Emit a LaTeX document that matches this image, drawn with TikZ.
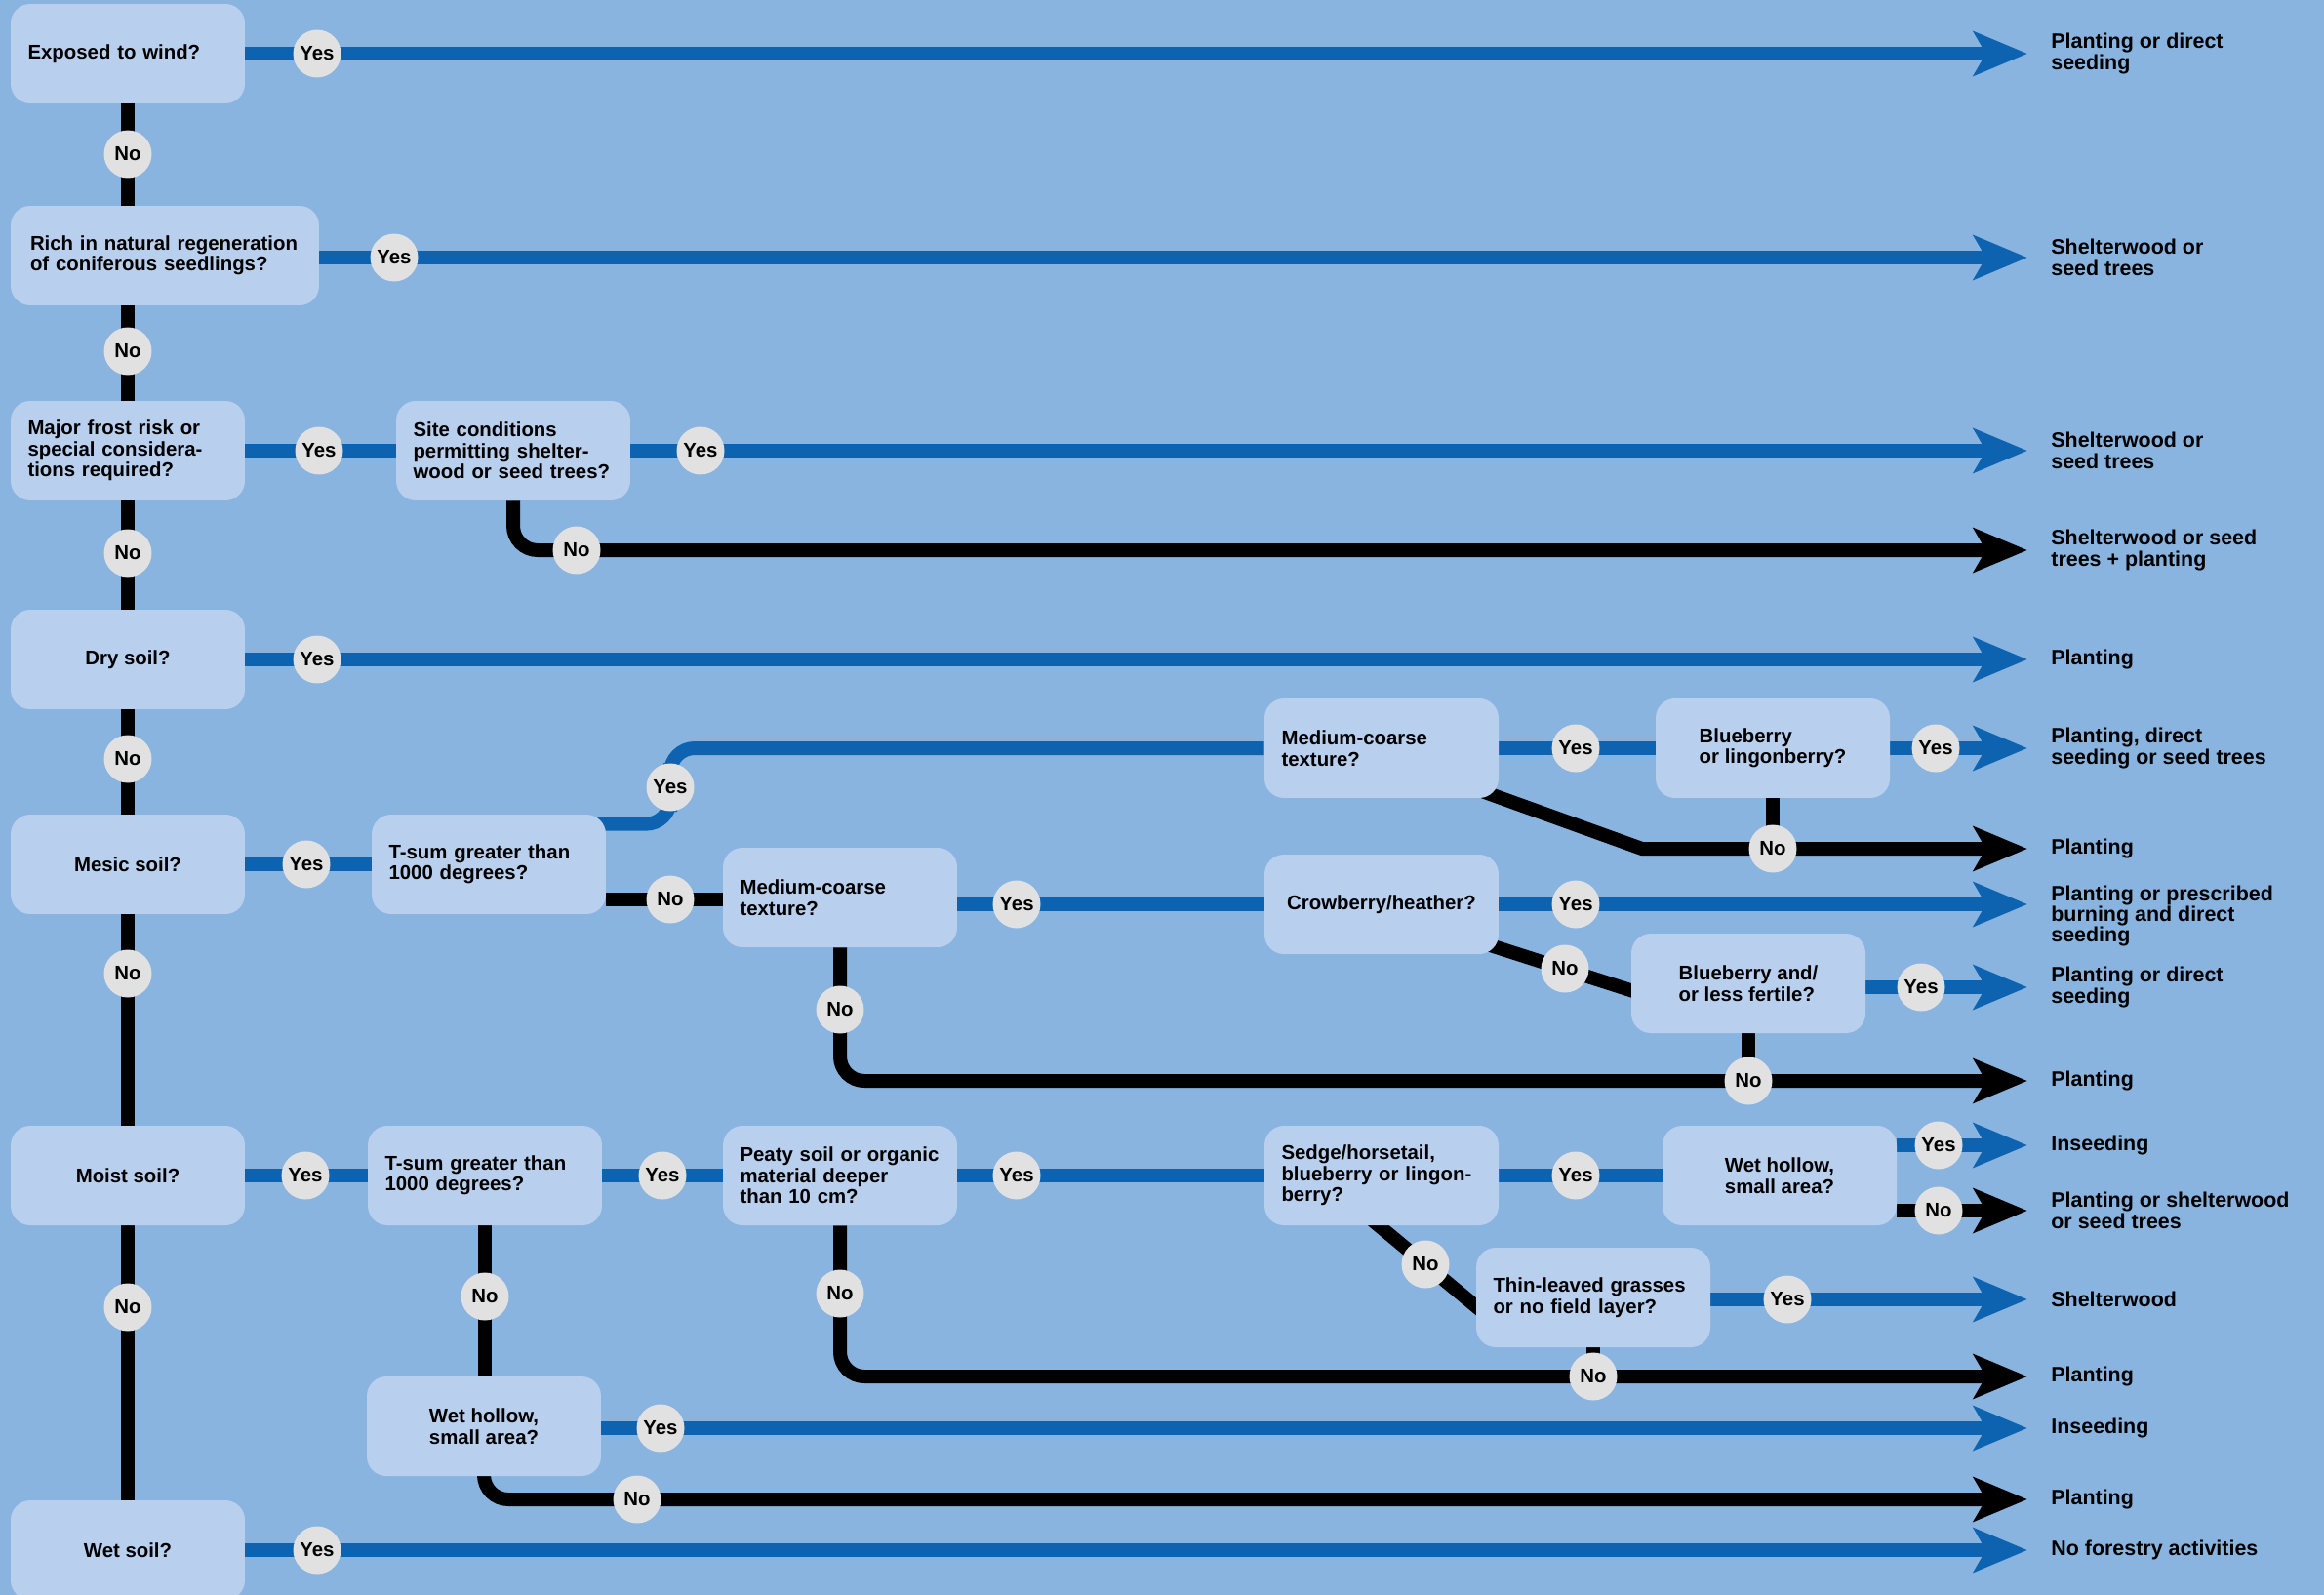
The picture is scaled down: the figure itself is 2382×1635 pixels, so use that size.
\documentclass[tikz,border=0pt]{standalone}
\usepackage{fontspec}
\setmainfont{Liberation Sans}
\usepackage{tikz}
\usetikzlibrary{arrows.meta, backgrounds}
\usepackage{xcolor}
\definecolor{bgblue}{RGB}{138,180,224}
\definecolor{boxblue}{RGB}{185,207,238}
\definecolor{lineblue}{RGB}{13,99,175}
\definecolor{ovalgray}{RGB}{225,225,225}
\tikzset{
  qbox/.style={rectangle, fill=boxblue, rounded corners=0.4cm,
    minimum width=4.8cm, minimum height=2.04cm, align=left,
    font=\fontsize{11.6}{12.2}\selectfont\bfseries, inner sep=0pt},
  qboxL/.style={qbox, text width=4.1cm, inner xsep=0.35cm},
  qboxW/.style={qbox, minimum width=6.32cm, text width=5.52cm, inner xsep=0.4cm},
  yn/.style={circle, fill=ovalgray, minimum size=0.98cm, inner sep=0pt,
    font=\fontsize{11.6}{12}\selectfont\bfseries},
  outtxt/.style={anchor=west, align=left, inner xsep=0.48cm, inner ysep=0pt,
    font=\fontsize{12.2}{12.2}\selectfont\bfseries},
  yesline/.style={draw=lineblue, line width=0.28cm},
  noline/.style={draw=black, line width=0.28cm},
  arrowend/.style={-{Stealth[length=1.1cm, width=0.9cm, inset=0.25cm]}},
}
\begin{document}
\begin{tikzpicture}[x=0.02cm, y=-0.02cm]
  \useasboundingbox (0,0) rectangle (2382,1635);

  % Main column
  \node[qboxL] (wind)  at (131,55)   {Exposed to wind?};
  \node[qboxW] (rich)  at (169,262)  {Rich in natural regeneration\\of coniferous seedlings?};
  \node[qboxL] (frost) at (131,462)  {Major frost risk or\\special considera-\\tions required?};
  \node[qbox]  (dry)   at (131,676)  {Dry soil?};
  \node[qbox]  (mesic) at (131,886)  {Mesic soil?};
  \node[qbox]  (moist) at (131,1205) {Moist soil?};
  \node[qbox]  (wet)   at (131,1589) {Wet soil?};

  % Follow-up questions
  \node[qboxL] (site)    at (526,462)   {Site conditions\\permitting shelter-\\wood or seed trees?};
  \node[qboxL] (tsumA)   at (501,886)   {T-sum greater than\\1000 degrees?};
  \node[qboxL] (medA)    at (1416,767)  {Medium-coarse\\texture?};
  \node[qbox]  (bluA)    at (1817,767)  {Blueberry\\or lingonberry?};
  \node[qboxL] (medB)    at (861,920)   {Medium-coarse\\texture?};
  \node[qbox]  (crow)    at (1416,927)  {Crowberry/heather?};
  \node[qbox]  (bluB)    at (1792,1008) {Blueberry and/\\or less fertile?};
  \node[qboxL] (tsumB)   at (497,1205)  {T-sum greater than\\1000 degrees?};
  \node[qboxL] (peat)    at (861,1205)  {Peaty soil or organic\\material deeper\\than 10 cm?};
  \node[qboxL] (sedge)   at (1416,1205) {Sedge/horsetail,\\blueberry or lingon-\\berry?};
  \node[qbox]  (hollowA) at (1824,1205) {Wet hollow,\\small area?};
  \node[qboxL] (thin)    at (1633,1330) {Thin-leaved grasses\\or no field layer?};
  \node[qbox]  (hollowB) at (496,1462)  {Wet hollow,\\small area?};

  % Outcomes (right side)
  \node[outtxt] (o1)  at (2078,55)   {Planting or direct\\seeding};
  \node[outtxt] (o2)  at (2078,264)  {Shelterwood or\\seed trees};
  \node[outtxt] (o3)  at (2078,462)  {Shelterwood or\\seed trees};
  \node[outtxt] (o4)  at (2078,564)  {Shelterwood or seed\\trees + planting};
  \node[outtxt] (o5)  at (2078,676)  {Planting};
  \node[outtxt] (o6)  at (2078,767)  {Planting, direct\\seeding or seed trees};
  \node[outtxt] (o7)  at (2078,870)  {Planting};
  \node[outtxt] (o8)  at (2078,939)  {Planting or prescribed\\burning and direct\\seeding};
  \node[outtxt] (o9)  at (2078,1012) {Planting or direct\\seeding};
  \node[outtxt] (o10) at (2078,1108) {Planting};
  \node[outtxt] (o11) at (2078,1174) {Inseeding};
  \node[outtxt] (o12) at (2078,1241) {Planting or shelterwood\\or seed trees};
  \node[outtxt] (o13) at (2078,1332) {Shelterwood};
  \node[outtxt] (o14) at (2078,1411) {Planting};
  \node[outtxt] (o15) at (2078,1464) {Inseeding};
  \node[outtxt] (o16) at (2078,1537) {Planting};
  \node[outtxt] (o17) at (2078,1589) {No forestry activities};

  % Yes / No tags
  \node[yn] (nA) at (131,158)  {No};
  \node[yn] (nB) at (131,360)  {No};
  \node[yn] (nC) at (131,567)  {No};
  \node[yn] (nD) at (131,778)  {No};
  \node[yn] (nE) at (131,998)  {No};
  \node[yn] (nF) at (131,1340) {No};
  \node[yn] (yWind)  at (325,55)    {Yes};
  \node[yn] (yRich)  at (404,264)   {Yes};
  \node[yn] (yFrost) at (327,462)   {Yes};
  \node[yn] (ySite)  at (718,462)   {Yes};
  \node[yn] (nSite)  at (591,564)   {No};
  \node[yn] (yDry)   at (325,676)   {Yes};
  \node[yn] (yMesic) at (314,886)   {Yes};
  \node[yn] (yT1)    at (687,807)   {Yes};
  \node[yn] (nT1)    at (687,922)   {No};
  \node[yn] (yMedA)  at (1615,767)  {Yes};
  \node[yn] (yBluA)  at (1984,767)  {Yes};
  \node[yn] (nBluA)  at (1817,870)  {No};
  \node[yn] (yMedB)  at (1042,927)  {Yes};
  \node[yn] (nMedB)  at (861,1035)  {No};
  \node[yn] (yCrow)  at (1615,927)  {Yes};
  \node[yn] (nCrow)  at (1604,993)  {No};
  \node[yn] (yBluB)  at (1969,1012) {Yes};
  \node[yn] (nBluB)  at (1792,1108) {No};
  \node[yn] (yMoist) at (313,1205)  {Yes};
  \node[yn] (yT2)    at (679,1205)  {Yes};
  \node[yn] (nT2)    at (497,1329)  {No};
  \node[yn] (yPeat)  at (1042,1205) {Yes};
  \node[yn] (nPeat)  at (861,1326)  {No};
  \node[yn] (ySedge) at (1615,1205) {Yes};
  \node[yn] (nSedge) at (1461,1296) {No};
  \node[yn] (yHolA)  at (1987,1174) {Yes};
  \node[yn] (nHolA)  at (1987,1241) {No};
  \node[yn] (yThin)  at (1832,1332) {Yes};
  \node[yn] (nThin)  at (1633,1411) {No};
  \node[yn] (yHolB)  at (677,1464)  {Yes};
  \node[yn] (nHolB)  at (653,1537)  {No};
  \node[yn] (yWet)   at (325,1589)  {Yes};

  \begin{scope}[on background layer]
    \fill[bgblue] (0,0) rectangle (2382,1635);

    % No path down the main column
    \draw[noline] (wind.south) -- (wind.south |- rich.north);
    \draw[noline] (frost.north |- rich.south) -- (frost.north);
    \draw[noline] (frost.south) -- (dry.north);
    \draw[noline] (dry.south) -- (mesic.north);
    \draw[noline] (mesic.south) -- (moist.north);
    \draw[noline] (moist.south) -- (wet.north);

    % Upper rows
    \draw[yesline, arrowend] (wind.east) -- (o1.west);
    \draw[yesline, arrowend] (rich.east |- o2.west) -- (o2.west);
    \draw[yesline] (frost.east) -- (site.west);
    \draw[yesline, arrowend] (site.east) -- (o3.west);
    \draw[noline, arrowend, rounded corners=0.5cm] (site.south) |- (o4.west);
    \draw[yesline, arrowend] (dry.east) -- (o5.west);

    % Mesic soil
    \draw[yesline] (mesic.east) -- (tsumA.west);
    \draw[yesline, rounded corners=0.5cm]
      ([xshift=-0.4cm, yshift=-0.2cm]tsumA.north east) -| (yT1.center) |- (medA.west);
    \draw[noline] (tsumA.east |- nT1.center) -- (medB.west |- nT1.center);
    \draw[yesline] (medA.east) -- (bluA.west);
    \draw[yesline, arrowend] (bluA.east) -- (o6.west);
    \draw[noline] (bluA.south) -- (bluA.south |- o7.west);
    \draw[noline, arrowend] ([xshift=-0.72cm, yshift=0.28cm]medA.south east)
      -- (1683,0 |- o7.west) -- (o7.west);
    \draw[yesline] (medB.east |- crow.west) -- (crow.west);
    \draw[yesline, arrowend] (crow.east) -- (crow.east -| o8.west);
    \draw[noline] ([xshift=-0.72cm, yshift=0.36cm]crow.south east)
      -- ([xshift=0.36cm, yshift=-0.26cm]bluB.west);
    \draw[yesline, arrowend] (bluB.east |- o9.west) -- (o9.west);
    \draw[noline] (bluB.south) -- (bluB.south |- o10.west);
    \draw[noline, arrowend, rounded corners=0.5cm] (medB.south) |- (o10.west);

    % Moist soil
    \draw[yesline] (moist.east) -- (tsumB.west);
    \draw[yesline] (tsumB.east) -- (peat.west);
    \draw[yesline] (peat.east) -- (sedge.west);
    \draw[yesline] (sedge.east) -- (hollowA.west);
    \draw[yesline, arrowend] (hollowA.east |- o11.west) -- (o11.west);
    \draw[noline, arrowend] (hollowA.east |- o12.west) -- (o12.west);
    \draw[noline] ([xshift=-0.54cm, yshift=0.4cm]sedge.south)
      -- ([xshift=0.36cm, yshift=-0.48cm]thin.west);
    \draw[yesline, arrowend] (thin.east |- o13.west) -- (o13.west);
    \draw[noline] (thin.south) -- (thin.south |- o14.west);
    \draw[noline, arrowend, rounded corners=0.5cm] (peat.south) |- (o14.west);
    \draw[noline] (tsumB.south) -- (tsumB.south |- hollowB.north);
    \draw[yesline, arrowend] (hollowB.east |- o15.west) -- (o15.west);
    \draw[noline, arrowend, rounded corners=0.5cm] (hollowB.south) |- (o16.west);

    % Wet soil
    \draw[yesline, arrowend] (wet.east) -- (o17.west);
  \end{scope}
\end{tikzpicture}
\end{document}
